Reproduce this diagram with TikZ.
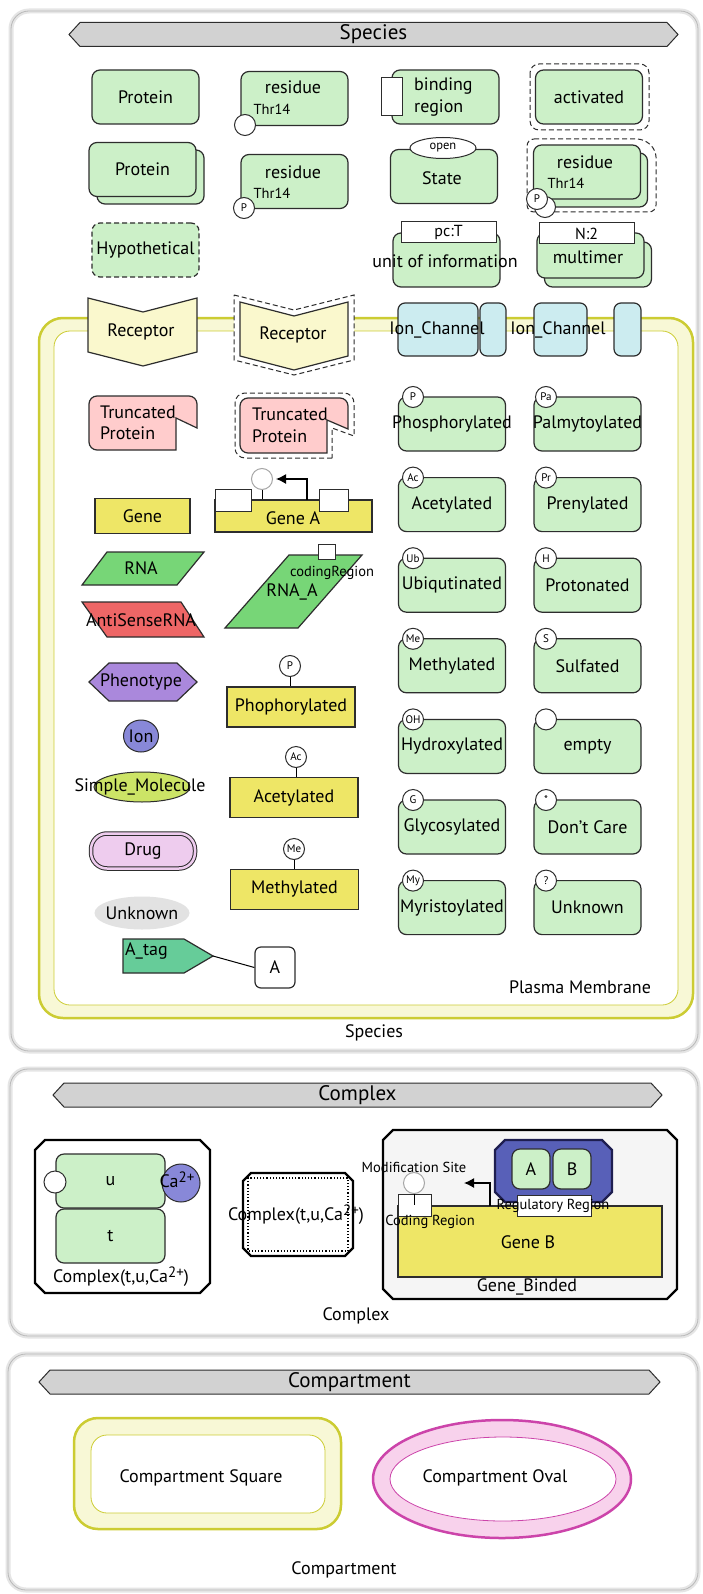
\documentclass[tikz,border=0pt]{standalone}
\usepackage{fontspec}
\setmainfont{PT Sans}
\usetikzlibrary{arrows,arrows.meta,calc,shapes,positioning}
\tikzset{>=latex}
\definecolor{edge}{RGB}{45,45,45}
\definecolor{protgreen}{RGB}{204,240,200}
\definecolor{recyellow}{RGB}{250,248,205}
\definecolor{iccyan}{RGB}{204,236,240}
\definecolor{trpink}{RGB}{255,204,204}
\definecolor{geneyellow}{RGB}{238,230,102}
\definecolor{rnagreen}{RGB}{119,214,119}
\definecolor{asred}{RGB}{238,102,102}
\definecolor{phenpurple}{RGB}{170,136,220}
\definecolor{ionblue}{RGB}{136,136,216}
\definecolor{smolgreen}{RGB}{204,228,102}
\definecolor{drugpink}{RGB}{238,204,238}
\definecolor{unkgray}{RGB}{226,226,226}
\definecolor{taggreen}{RGB}{102,204,153}
\definecolor{bangray}{RGB}{210,210,210}
\definecolor{cplxblue}{RGB}{88,96,184}
\definecolor{navy}{RGB}{30,30,80}
\definecolor{membline}{RGB}{204,204,51}
\definecolor{membfill}{RGB}{248,248,214}
\definecolor{ovalline}{RGB}{204,68,170}
\definecolor{ovalfill}{RGB}{248,210,236}

\newcommand{\lab}{\fontsize{18}{20}\selectfont}
\newcommand{\smlab}{\fontsize{14.5}{15}\selectfont}
\newcommand{\tinylab}{\fontsize{11}{12}\selectfont}
\newcommand{\banlab}{\fontsize{21}{23}\selectfont}
\newcommand{\caion}{Ca\raisebox{5pt}{\fontsize{15}{15}\selectfont 2+}}

\tikzset{
  panel/.style={draw=black!28, line width=0.8pt, rounded corners=18pt, preaction={draw=black!10, line width=5pt}},
  prot/.style={draw=edge, fill=protgreen, line width=1.2pt, rounded corners=8pt, minimum width=107pt, minimum height=54pt, inner sep=0pt, font=\lab},
  txt/.style={font=\lab, inner sep=0pt},
  smtxt/.style={font=\smlab, inner sep=0pt},
  modsite/.style={circle, draw=edge, fill=white, line width=1pt, minimum size=21pt, inner sep=0pt, font=\tinylab},
  wrect/.style={draw=edge, fill=white, line width=1pt, inner sep=0pt},
  gene/.style={draw=edge, fill=geneyellow, line width=1.2pt, inner sep=0pt},
  cplx/.style={draw=black, line width=2.2pt},
  hypo/.style={dash pattern=on 5pt off 3pt},
  rec/.style={draw=edge, fill=recyellow, line width=1.2pt},
  ichan/.style={draw=edge, fill=iccyan, line width=1.2pt, rounded corners=7pt, minimum height=53pt, inner sep=0pt},
  trunc/.style={draw=edge, fill=trpink, line width=1.2pt},
  outl/.style={draw=edge, line width=1pt, dash pattern=on 5pt off 3pt},
  tss/.style={-{Latex[length=10pt, width=10pt]}, line width=1.3pt},
}

% banner: name, left tip, right tip, middle y, text
\newcommand{\spbanner}[5]{%
  \draw[draw=edge, fill=bangray, line width=1pt] (#2,#4) -- (#2+11,#4-12) -- (#3-11,#4-12) -- (#3,#4) -- (#3-11,#4+12) -- (#2+11,#4+12) -- cycle;
  \node[font=\banlab, inner sep=0pt] (#1) at ({(#2+#3)/2},#4) {#5};}
% box with cut corners: style, x0, y0, x1, y1, corner
\newcommand{\cutbox}[6]{%
  \draw[#1] (#2+#6,#3) -- (#4-#6,#3) -- (#4,#3+#6) -- (#4,#5-#6) -- (#4-#6,#5) -- (#2+#6,#5) -- (#2,#5-#6) -- (#2,#3+#6) -- cycle;}

\begin{document}
\begin{tikzpicture}[x=1pt,y=-1pt]
  \useasboundingbox (0,0) rectangle (702,1594);
  \fill[white] (0,0) rectangle (702,1594);

  % species panel
  \draw[panel] (11,11) rectangle (698,1051);
  \spbanner{spBan}{69}{678}{34.5}{Species}

  \node[prot] (prot) at (145.5,97) {Protein};
  \node[prot] (res) at (294.5,98.5) {};
  \node[txt] (resT) at (293,87) {residue};
  \node[smtxt] (resThr) at (272,109) {Thr14};
  \node[modsite] (resMod) at (245,125) {};
  \node[prot] (bind) at (445.5,97) {};
  \node[wrect, minimum width=21pt, minimum height=38pt] (bindReg) at (391.5,97) {};
  \node[txt, anchor=west] (bindT) at (414,86) {binding};
  \node[txt, anchor=west] (bindT2) at (414,108) {region};
  \draw[outl, rounded corners=9pt] (530,64) rectangle (649,130);
  \node[prot] (act) at (589,97) {activated};

  \node[prot] (protMb) at (150.5,177) {};
  \node[prot] (protM) at (142.5,169.5) {Protein};
  \node[prot] (res2) at (294.5,181.5) {};
  \node[txt] (res2T) at (293,172) {residue};
  \node[smtxt] (res2Thr) at (272,193) {Thr14};
  \node[modsite] (res2Mod) at (244,208) {P};
  \node[prot] (state) at (444,176.5) {};
  \node[txt] (stateT) at (442,178) {State};
  \node[ellipse, draw=edge, fill=white, line width=1pt, minimum width=66pt, minimum height=21pt, inner sep=0pt, font=\fontsize{12.5}{13}\selectfont] (stateVal) at (443,148) {open};
  \draw[outl, rounded corners=7pt] (527,139) -- (644,139) -- (656,150) -- (656,212) -- (527,212) -- cycle;
  \node[prot] (resMb) at (594,180) {};
  \node[prot] (resM) at (587,172) {};
  \node[txt] (resMT) at (585,162) {residue};
  \node[smtxt] (resMThr) at (566,183) {Thr14};
  \node[modsite] (resMModb) at (545,207) {};
  \node[modsite] (resMMod) at (537,199) {P};

  \node[prot, hypo] (hypo) at (145.5,250) {Hypothetical};
  \node[prot] (uoi) at (446.5,260) {};
  \node[wrect, minimum width=95pt, minimum height=21pt, font=\fontsize{16}{16}\selectfont] (uoiVal) at (448.5,232.5) {pc:T};
  \node[txt] (uoiT) at (445,261) {unit of information};
  \node[prot, minimum height=45pt] (mulb) at (598,264.5) {};
  \node[prot, minimum height=45pt] (mul) at (590.5,255.5) {};
  \node[wrect, minimum width=95pt, minimum height=21pt, font=\fontsize{16}{16}\selectfont] (mulVal) at (586.5,233.5) {N:2};
  \node[txt] (mulT) at (588,257) {multimer};

  % plasma membrane
  \draw[draw=membline, line width=2.5pt, fill=membfill, rounded corners=24pt] (39,318) rectangle (693,1018);
  \draw[draw=membline, line width=0.8pt, fill=white, rounded corners=16pt] (54,331) rectangle (678,1005);
  \node[txt] (pmT) at (580,987) {Plasma Membrane};

  \draw[rec] (88,298) -- (143,312) -- (197,298) -- (197,352) -- (143,366) -- (88,352) -- cycle;
  \node[txt] (rec1) at (141,332) {Receptor};
  \draw[outl, fill=white] (234,295) -- (294,310) -- (354,295) -- (354,360) -- (294,375) -- (234,360) -- cycle;
  \draw[rec] (240,302) -- (294,316) -- (348,302) -- (348,356) -- (294,370) -- (240,356) -- cycle;
  \node[txt] (rec2) at (293,335) {Receptor};

  \node[ichan, minimum width=80pt] (ic1) at (438,329.5) {};
  \node[ichan, minimum width=26pt] (ic1b) at (493,329.5) {};
  \node[txt] (ic1T) at (437,330) {Ion\_Channel};
  \node[ichan, minimum width=53pt] (ic2) at (560.5,329.5) {};
  \node[ichan, minimum width=27pt] (ic2b) at (627.5,329.5) {};
  \node[txt] (ic2T) at (558,330) {Ion\_Channel};

  \draw[trunc] (176,450) [rounded corners=8pt] -- (89,450) -- (89,396) -- (197,396) [sharp corners] -- (197,428) -- (176,418) -- cycle;
  \node[txt, anchor=west] (tr1a) at (100,412) {Truncated};
  \node[txt, anchor=west] (tr1b) at (100,433) {Protein};
  \draw[outl, fill=white] (332,458) [rounded corners=10pt] -- (235,458) -- (235,393) -- (354,393) [sharp corners] -- (354,436) -- (332,428) -- cycle;
  \draw[trunc] (327,453) [rounded corners=8pt] -- (240,453) -- (240,398) -- (348,398) [sharp corners] -- (348,429) -- (327,420) -- cycle;
  \node[txt, anchor=west] (tr2a) at (252,414) {Truncated};
  \node[txt, anchor=west] (tr2b) at (252,436) {Protein};

  \node[gene, minimum width=95pt, minimum height=35pt, font=\lab] (gene) at (142.5,516) {Gene};
  \node[gene, minimum width=157pt, minimum height=32pt] (geneA) at (293.5,516) {};
  \node[wrect, minimum width=36pt, minimum height=22pt] (gaL) at (233,500) {};
  \node[wrect, minimum width=29pt, minimum height=22pt] (gaR) at (333.5,500) {};
  \node[txt] (geneAT) at (293,518) {Gene A};
  \node[modsite, draw=black!35] (gaMod) at (262,479) {};
  \draw[line width=1pt] (gaMod.south) -- (gaMod.south |- geneA.north);
  \coordinate (gaTss) at (307,500);
  \coordinate (gaTip) at (276,479);
  \draw[tss] (gaTss) |- (gaTip);

  \draw[draw=edge, fill=rnagreen, line width=1.2pt] (107,552) -- (204,552) -- (177,585) -- (82,585) -- cycle;
  \node[txt] (rnaT) at (141,568) {RNA};
  \draw[draw=edge, fill=asred, line width=1.2pt] (82,602) -- (181,602) -- (204,637) -- (107,637) -- cycle;
  \node[txt] (asT) at (141,620) {AntiSenseRNA};
  \draw[draw=edge, fill=rnagreen, line width=1.2pt] (289,555) -- (362,555) -- (298,628) -- (225,628) -- cycle;
  \node[wrect, minimum width=17pt, minimum height=15pt] (rnaACr) at (326.5,551.5) {};
  \node[smtxt] (rnaACrT) at (332,573) {codingRegion};
  \node[txt] (rnaAT) at (292,592) {RNA\_A};

  \draw[draw=edge, fill=phenpurple, line width=1.2pt] (89,682) -- (109,663) -- (177,663) -- (197,682) -- (177,701) -- (109,701) -- cycle;
  \node[txt] (phenT) at (141,682) {Phenotype};
  \node[ellipse, draw=edge, fill=ionblue, line width=1pt, minimum width=35pt, minimum height=32pt, inner sep=0pt] (ion) at (141,736) {};
  \node[txt] (ionT) at (ion) {Ion};
  \node[ellipse, draw=edge, fill=smolgreen, line width=1pt, minimum width=96pt, minimum height=30pt, inner sep=0pt] (smol) at (142,787) {};
  \node[txt] (smolT) at (140,787) {Simple\_Molecule};
  \node[draw=edge, double=drugpink, double distance=2.5pt, fill=drugpink, line width=1pt, rounded corners=16pt, minimum width=104pt, minimum height=35pt, inner sep=0pt] (drug) at (143,851) {};
  \node[txt] (drugT) at (drug) {Drug};
  \node[ellipse, fill=unkgray, minimum width=95pt, minimum height=33pt, inner sep=0pt] (unk) at (142,913) {};
  \node[txt] (unkT) at (unk) {Unknown};
  \draw[draw=edge, fill=taggreen, line width=1.2pt] (123,939) -- (184,939) -- (213,956) -- (184,973) -- (123,973) -- cycle;
  \coordinate (tagTip) at (213,956);
  \node[txt, anchor=west] (tagT) at (125,951) {A\_tag};
  \node[draw=edge, fill=white, rounded corners=6pt, minimum width=40pt, minimum height=41pt, line width=1.2pt, font=\lab] (tagA) at (275,967.5) {A};
  \draw[line width=1pt] (tagTip) -- (tagA.west);

  % modified genes
  \node[gene, minimum width=128pt, minimum height=40pt, font=\lab] (ph) at (291,707) {Phophorylated};
  \node[modsite] (phMod) at (290,666) {P};
  \draw[line width=1pt] (phMod.south) -- (phMod.south |- ph.north);
  \node[gene, minimum width=128pt, minimum height=40pt, font=\lab] (ac) at (294,797.5) {Acetylated};
  \node[modsite] (acMod) at (296,757) {Ac};
  \draw[line width=1pt] (acMod.south) -- (acMod.south |- ac.north);
  \node[gene, minimum width=128pt, minimum height=40pt, font=\lab] (me) at (294.5,889.5) {Methylated};
  \node[modsite] (meMod) at (294,849) {Me};
  \draw[line width=1pt] (meMod.south) -- (meMod.south |- me.north);

  % modified proteins
  \foreach \lbl/\md [count=\i from 0] in {Phosphorylated/P, Acetylated/Ac, Ubiqutinated/Ub, Methylated/Me, Hydroxylated/OH, Glycosylated/G, Myristoylated/My}{
    \pgfmathsetmacro{\yy}{424+80.6*\i}
    \node[prot] (mA\i) at (452,\yy) {};
    \node[txt] (mAt\i) at (mA\i) {\lbl};
    \node[modsite] (mAc\i) at (413,\yy-27) {\md};
  }
  \foreach \lbl/\md [count=\i from 0] in {Palmytoylated/Pa, Prenylated/Pr, Protonated/H, Sulfated/S, empty/{}, Don't Care/*, Unknown/?}{
    \pgfmathsetmacro{\yy}{424+80.6*\i}
    \node[prot] (mB\i) at (587.5,\yy) {};
    \node[txt] (mBt\i) at (mB\i) {\lbl};
    \node[modsite] (mBc\i) at (546,\yy-27) {\md};
  }
  \node[txt] (spL) at (374,1033) {Species};

  % complex panel
  \draw[panel] (10,1069) rectangle (698,1336);
  \spbanner{cxBan}{53}{662}{1095}{Complex}
  \cutbox{cplx, fill=white}{35}{1140}{210}{1293}{10}
  \node[prot, minimum width=109pt] (cxU) at (110.5,1181) {u};
  \node[prot, minimum width=109pt] (cxT) at (110.5,1236) {t};
  \node[modsite, minimum size=22pt] (cxMod) at (55,1182) {};
  \node[circle, draw=edge, fill=ionblue, line width=1pt, minimum size=38pt, inner sep=0pt] (cxCa) at (181,1183) {};
  \node[txt] (cxCaT) at (177,1180) {\caion};
  \node[txt] (cx1L) at (121,1277) {Complex(t,u,\caion)};

  \cutbox{cplx, fill=white}{243}{1173}{353}{1256}{8}
  \draw[line width=1.2pt, dotted] (248,1178) rectangle (348,1251);
  \node[txt] (cx2L) at (296,1215) {Complex(t,u,\caion)};

  \cutbox{cplx, fill=black!4}{383}{1130}{677}{1299}{10}
  \node[gene, minimum width=264pt, minimum height=71pt] (geneB) at (530,1241.5) {};
  \node[txt] (geneBT) at (528,1242) {Gene B};
  \node[wrect, minimum width=33pt, minimum height=22pt] (cdReg) at (414.5,1205) {};
  \node[modsite, draw=black!35] (cdMod) at (414,1183) {};
  \draw[line width=1pt] (cdMod.south) -- (cdMod.south |- geneB.north);
  \coordinate (gbTss) at (490,1206);
  \coordinate (gbTip) at (464,1183);
  \draw[tss] (gbTss) |- (gbTip);
  \cutbox{cplx, draw=navy, fill=cplxblue}{495}{1140}{612}{1202}{10}
  \node[prot, minimum width=38pt, minimum height=40pt] (cxA) at (531,1169) {A};
  \node[prot, minimum width=38pt, minimum height=40pt] (cxB) at (572,1169) {B};
  \node[wrect, minimum width=74pt, minimum height=21pt] (regReg) at (554,1205.5) {};
  \node[smtxt] (regRegT) at (553,1206) {Regulatory Region};
  \node[smtxt] (modSiteT) at (414,1167) {Modification Site};
  \node[smtxt] (cdRegT) at (430,1222) {Coding Region};
  \node[txt] (gbL) at (527,1287) {Gene\_Binded};
  \node[txt] (cxL) at (356,1316) {Complex};

  % compartment panel
  \draw[panel] (8,1354) rectangle (698,1590);
  \spbanner{cmBan}{39}{660}{1382}{Compartment}
  \draw[draw=membline, line width=2.5pt, fill=membfill, rounded corners=24pt] (74,1418) rectangle (341,1529);
  \draw[draw=membline, line width=0.8pt, fill=white, rounded corners=16pt] (91,1435) rectangle (325,1513);
  \node[txt] (cmSq) at (201,1478) {Compartment Square};
  \draw[draw=ovalline, line width=2.5pt, fill=ovalfill] (502,1479) ellipse [x radius=129pt, y radius=59pt];
  \draw[draw=ovalline, line width=0.8pt, fill=white] (503,1479) ellipse [x radius=113pt, y radius=42pt];
  \node[txt] (cmOv) at (495,1478) {Compartment Oval};
  \node[txt] (cmL) at (344,1570) {Compartment};
\end{tikzpicture}
\end{document}
